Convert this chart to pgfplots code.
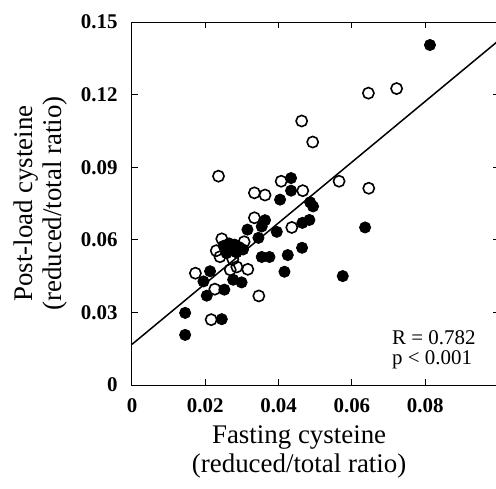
\documentclass[border=0pt]{standalone}
\usepackage{fontspec}
\setmainfont{Liberation Serif}
\usepackage{pgfplots}
\pgfplotsset{compat=1.18}

\begin{document}
\begin{tikzpicture}
\begin{axis}[
  at={(0,0)}, anchor=south west,
  scale only axis, width=183.25bp, height=181.5bp,
  xmin=0, xmax=0.1, ymin=0, ymax=0.15,
  xtick={0,0.02,0.04,0.06,0.08},
  xticklabels={\textbf{0},\textbf{0.02},\textbf{0.04},\textbf{0.06},\textbf{0.08}},
  ytick={0,0.03,0.06,0.09,0.12,0.15},
  yticklabels={\textbf{0},\textbf{0.03},\textbf{0.06},\textbf{0.09},\textbf{0.12},\textbf{0.15}},
  scaled ticks=false,
  tick align=inside,
  major tick length=3bp,
  ticklabel style={font=\fontsize{10.5}{12}\selectfont},
  xticklabel style={anchor=north, inner sep=0pt, yshift=-6.5bp},
  yticklabel style={anchor=east, inner sep=0pt, xshift=-7bp},
  xlabel={Fasting cysteine\\(reduced/total ratio)},
  ylabel={Post-load cysteine\\(reduced/total ratio)},
  label style={font=\fontsize{13.5}{14.5}\selectfont, align=center, inner sep=0pt},
  xlabel style={at={(axis description cs:0.456,-0.110)}, anchor=north},
  ylabel style={at={(axis description cs:-0.176,0.5)}, anchor=south},
  axis line style={line width=0.5bp},
  every tick/.style={black, line width=0.5bp},
  clip=false,
]
% regression line
\addplot[black, line width=0.75bp] coordinates {(0,0.0168) (0.1,0.1423)};

% filled circles
\addplot[only marks, mark=*, mark size=2.8bp, mark options={fill=black, draw=black}] coordinates {
  (0.0145,0.0298) (0.0145,0.0207) (0.0245,0.0272) (0.0204,0.0369)
  (0.0195,0.0428) (0.0213,0.0470) (0.0252,0.0394) (0.0276,0.0435)
  (0.0299,0.0424) (0.0315,0.0642) (0.0345,0.0608) (0.0354,0.0655)
  (0.0363,0.0681) (0.0395,0.0633) (0.0404,0.0766) (0.0434,0.0855)
  (0.0434,0.0803) (0.0486,0.0755) (0.0494,0.0738) (0.0465,0.0670)
  (0.0484,0.0682) (0.0354,0.0529) (0.0375,0.0529) (0.0425,0.0537)
  (0.0464,0.0567) (0.0416,0.0468) (0.0575,0.0450) (0.0636,0.0651)
  (0.0813,0.1405)
  (0.0250,0.0575) (0.0265,0.0585) (0.0280,0.0580) (0.0272,0.0560)
  (0.0292,0.0570) (0.0303,0.0560) (0.0258,0.0545) (0.0285,0.0548)
};

% open circles
\addplot[only marks, mark=o, mark size=2.8bp, mark options={draw=black, fill=white, line width=0.8bp}] coordinates {
  (0.0236,0.0863) (0.0334,0.0794) (0.0363,0.0785) (0.0407,0.0842)
  (0.0466,0.0803) (0.0565,0.0842) (0.0646,0.0813) (0.0463,0.1091)
  (0.0493,0.1004) (0.0645,0.1206) (0.0722,0.1225) (0.0334,0.0691)
  (0.0436,0.0651) (0.0245,0.0604) (0.0306,0.0592) (0.0240,0.0530)
  (0.0230,0.0555) (0.0275,0.0520) (0.0173,0.0462) (0.0268,0.0476)
  (0.0286,0.0488) (0.0316,0.0478) (0.0226,0.0396) (0.0346,0.0368)
  (0.0216,0.0270)
};

\node[anchor=base west, inner sep=0pt, font=\fontsize{10.5}{12}\selectfont] at (axis cs:0.0709,0.0166) {R = 0.782};
\node[anchor=base west, inner sep=0pt, font=\fontsize{10.5}{12}\selectfont] at (axis cs:0.0709,0.0083) {p < 0.001};
\end{axis}
\pgfresetboundingbox
\useasboundingbox (-66bp,-52bp) rectangle (182bp,192.5bp);
\end{tikzpicture}
\end{document}
